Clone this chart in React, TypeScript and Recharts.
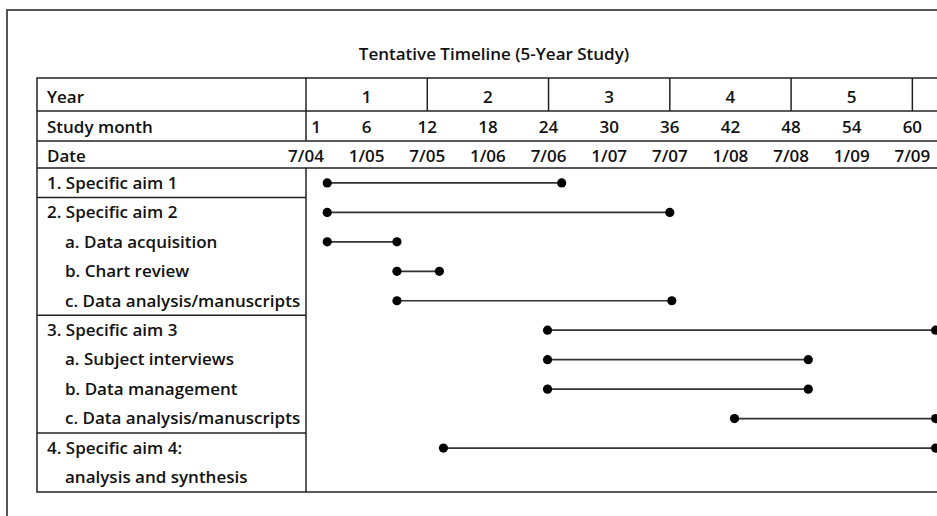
import React from 'react';
import { BarChart, Bar, XAxis, YAxis } from 'recharts';

// ---------- data ----------
const chartTitle = 'Tentative Timeline (5-Year Study)';
const headerLabels = ['Year', 'Study month', 'Date'];

const taskNames = [
  '1. Specific aim 1',
  '2. Specific aim 2',
  'a. Data acquisition',
  'b. Chart review',
  'c. Data analysis/manuscripts',
  '3. Specific aim 3',
  'a. Subject interviews',
  'b. Data management',
  'c. Data analysis/manuscripts',
  '4. Specific aim 4:',
  'analysis and synthesis',
];
// start / end in study months
const startMonths: (number | null)[] = [2.1, 2.1, 2.1, 9.0, 9.0, 23.9, 23.9, 23.9, 42.4, 13.6, null];
const endMonths: (number | null)[] = [25.3, 36.0, 9.0, 13.2, 36.2, 62.3, 49.7, 49.7, 62.3, 62.3, null];

const yearCenters = [6, 18, 30, 42, 54];
const yearLabels = ['1', '2', '3', '4', '5'];
const yearBoundaries = [12, 24, 36, 48, 60];
const monthTicks = [1, 6, 12, 18, 24, 30, 36, 42, 48, 54, 60];
const dateTicks = [0, 6, 12, 18, 24, 30, 36, 42, 48, 54, 60];
const dateLabels = ['7/04', '1/05', '7/05', '1/06', '7/06', '1/07', '7/07', '1/08', '7/08', '1/09', '7/09'];
const monthDomain = [0, 66];

const table = taskNames.map((name, i) => ({
  name,
  span: startMonths[i] == null ? null : [startMonths[i], endMonths[i]],
}));

// ---------- layout / style ----------
const FONT = "'Open Sans', 'Noto Sans', sans-serif";
const FS = 17;
const FW = 600;
const TXT = '#111';
const LINE = '#222';
const LEFT = 37;
const TOP = 78;
const LABEL_W = 269;
const YEAR_H = 33;
const MONTH_H = 30;
const DATE_H = 27;
const PLOT_BOTTOM = 492;
const CHART_W = 973;
const CHART_H = 520;
const PLOT_TOP = TOP + YEAR_H + MONTH_H + DATE_H;
const ROW_H = (PLOT_BOTTOM - PLOT_TOP) / taskNames.length;
const SPLIT_X = LEFT + LABEL_W;

const textStyle = { fontFamily: FONT, fontSize: FS, fontWeight: FW, fill: TXT } as const;

const YearTick = (props: any) => {
  const { x, y, payload } = props;
  const v = payload.value;
  if (yearBoundaries.indexOf(v) >= 0) {
    return <line x1={x} x2={x} y1={y} y2={y - YEAR_H} stroke={LINE} strokeWidth={1.5} />;
  }
  const ci = yearCenters.indexOf(v);
  return (
    <text x={x} y={y - 8} textAnchor="middle" {...textStyle}>
      {yearLabels[ci]}
    </text>
  );
};

const MonthTick = (props: any) => {
  const { x, y, payload } = props;
  return (
    <text x={x} y={y - 8.5} textAnchor="middle" {...textStyle}>
      {String(payload.value)}
    </text>
  );
};

const DateTick = (props: any) => {
  const { x, y, payload } = props;
  const i = dateTicks.indexOf(payload.value);
  return (
    <text x={x} y={y - 6.5} textAnchor="middle" {...textStyle}>
      {dateLabels[i]}
    </text>
  );
};

const TaskTick = (props: any) => {
  const { y, payload, index } = props;
  const name: string = payload.value;
  const indent = /^[a-z]/.test(name);
  const groupStart = /^[0-9]/.test(name) && index > 0;
  return (
    <g>
      {groupStart && (
        <line x1={LEFT} x2={SPLIT_X} y1={y - ROW_H / 2} y2={y - ROW_H / 2} stroke={LINE} strokeWidth={1.5} />
      )}
      <text x={LEFT + (indent ? 28 : 10)} y={y + 6} textAnchor="start" {...textStyle}>
        {name}
      </text>
    </g>
  );
};

const SpanShape = (props: any) => {
  const { x, y, width, height, payload } = props;
  if (!payload || !payload.span || width == null) return null;
  const cy = y + height / 2;
  const x2 = x + width;
  return (
    <g>
      <line x1={x} x2={x2} y1={cy} y2={cy} stroke="#333" strokeWidth={1.7} />
      <circle cx={x} cy={cy} r={4.6} fill="#000" />
      <circle cx={x2} cy={cy} r={4.6} fill="#000" />
    </g>
  );
};

export default function App() {
  return (
    <div
      style={{
        position: 'fixed',
        left: 0,
        top: 0,
        width: 937,
        height: 516,
        overflow: 'hidden',
        background: '#fff',
      }}
    >
      <svg width={937} height={516} style={{ position: 'absolute', left: 0, top: 0 }}>
        <rect x={7} y={10} width={2000} height={2000} fill="none" stroke="#555" strokeWidth={2} />
        <text x={494} y={59.5} textAnchor="middle" {...textStyle}>
          {chartTitle}
        </text>
        <rect x={LEFT} y={TOP} width={2000} height={PLOT_BOTTOM - TOP} fill="none" stroke={LINE} strokeWidth={1.5} />
        <line x1={LEFT} x2={2000} y1={TOP + YEAR_H} y2={TOP + YEAR_H} stroke={LINE} strokeWidth={1.5} />
        <line x1={LEFT} x2={2000} y1={TOP + YEAR_H + MONTH_H} y2={TOP + YEAR_H + MONTH_H} stroke={LINE} strokeWidth={1.5} />
        <line x1={LEFT} x2={2000} y1={PLOT_TOP} y2={PLOT_TOP} stroke={LINE} strokeWidth={1.5} />
        <line x1={SPLIT_X} x2={SPLIT_X} y1={TOP} y2={TOP + YEAR_H + MONTH_H} stroke={LINE} strokeWidth={1.5} />
        <line x1={SPLIT_X} x2={SPLIT_X} y1={PLOT_TOP} y2={PLOT_BOTTOM} stroke={LINE} strokeWidth={1.5} />
        <text x={LEFT + 10} y={TOP + YEAR_H - 8} {...textStyle}>{headerLabels[0]}</text>
        <text x={LEFT + 10} y={TOP + YEAR_H + MONTH_H - 8.5} {...textStyle}>{headerLabels[1]}</text>
        <text x={LEFT + 10} y={PLOT_TOP - 6.5} {...textStyle}>{headerLabels[2]}</text>
      </svg>
      <div style={{ position: 'absolute', left: 0, top: 0 }}>
        <BarChart
          width={CHART_W}
          height={CHART_H}
          data={table}
          layout="vertical"
          margin={{ top: TOP, right: 0, bottom: CHART_H - PLOT_BOTTOM, left: LEFT }}
        >
          <XAxis
            xAxisId="date"
            type="number"
            orientation="top"
            domain={monthDomain}
            allowDataOverflow
            ticks={dateTicks}
            interval={0}
            height={DATE_H}
            tickSize={0}
            tickMargin={0}
            tickLine={false}
            axisLine={false}
            tick={<DateTick />}
          />
          <XAxis
            xAxisId="month"
            type="number"
            orientation="top"
            domain={monthDomain}
            allowDataOverflow
            ticks={monthTicks}
            interval={0}
            height={MONTH_H}
            tickSize={0}
            tickMargin={0}
            tickLine={false}
            axisLine={false}
            tick={<MonthTick />}
          />
          <XAxis
            xAxisId="year"
            type="number"
            orientation="top"
            domain={monthDomain}
            allowDataOverflow
            ticks={[...yearCenters, ...yearBoundaries].sort((a, b) => a - b)}
            interval={0}
            height={YEAR_H}
            tickSize={0}
            tickMargin={0}
            tickLine={false}
            axisLine={false}
            tick={<YearTick />}
          />
          <YAxis
            type="category"
            dataKey="name"
            width={LABEL_W}
            interval={0}
            tickLine={false}
            axisLine={false}
            tick={<TaskTick />}
          />
          <Bar xAxisId="date" dataKey="span" isAnimationActive={false} shape={<SpanShape />} />
        </BarChart>
      </div>
    </div>
  );
}
